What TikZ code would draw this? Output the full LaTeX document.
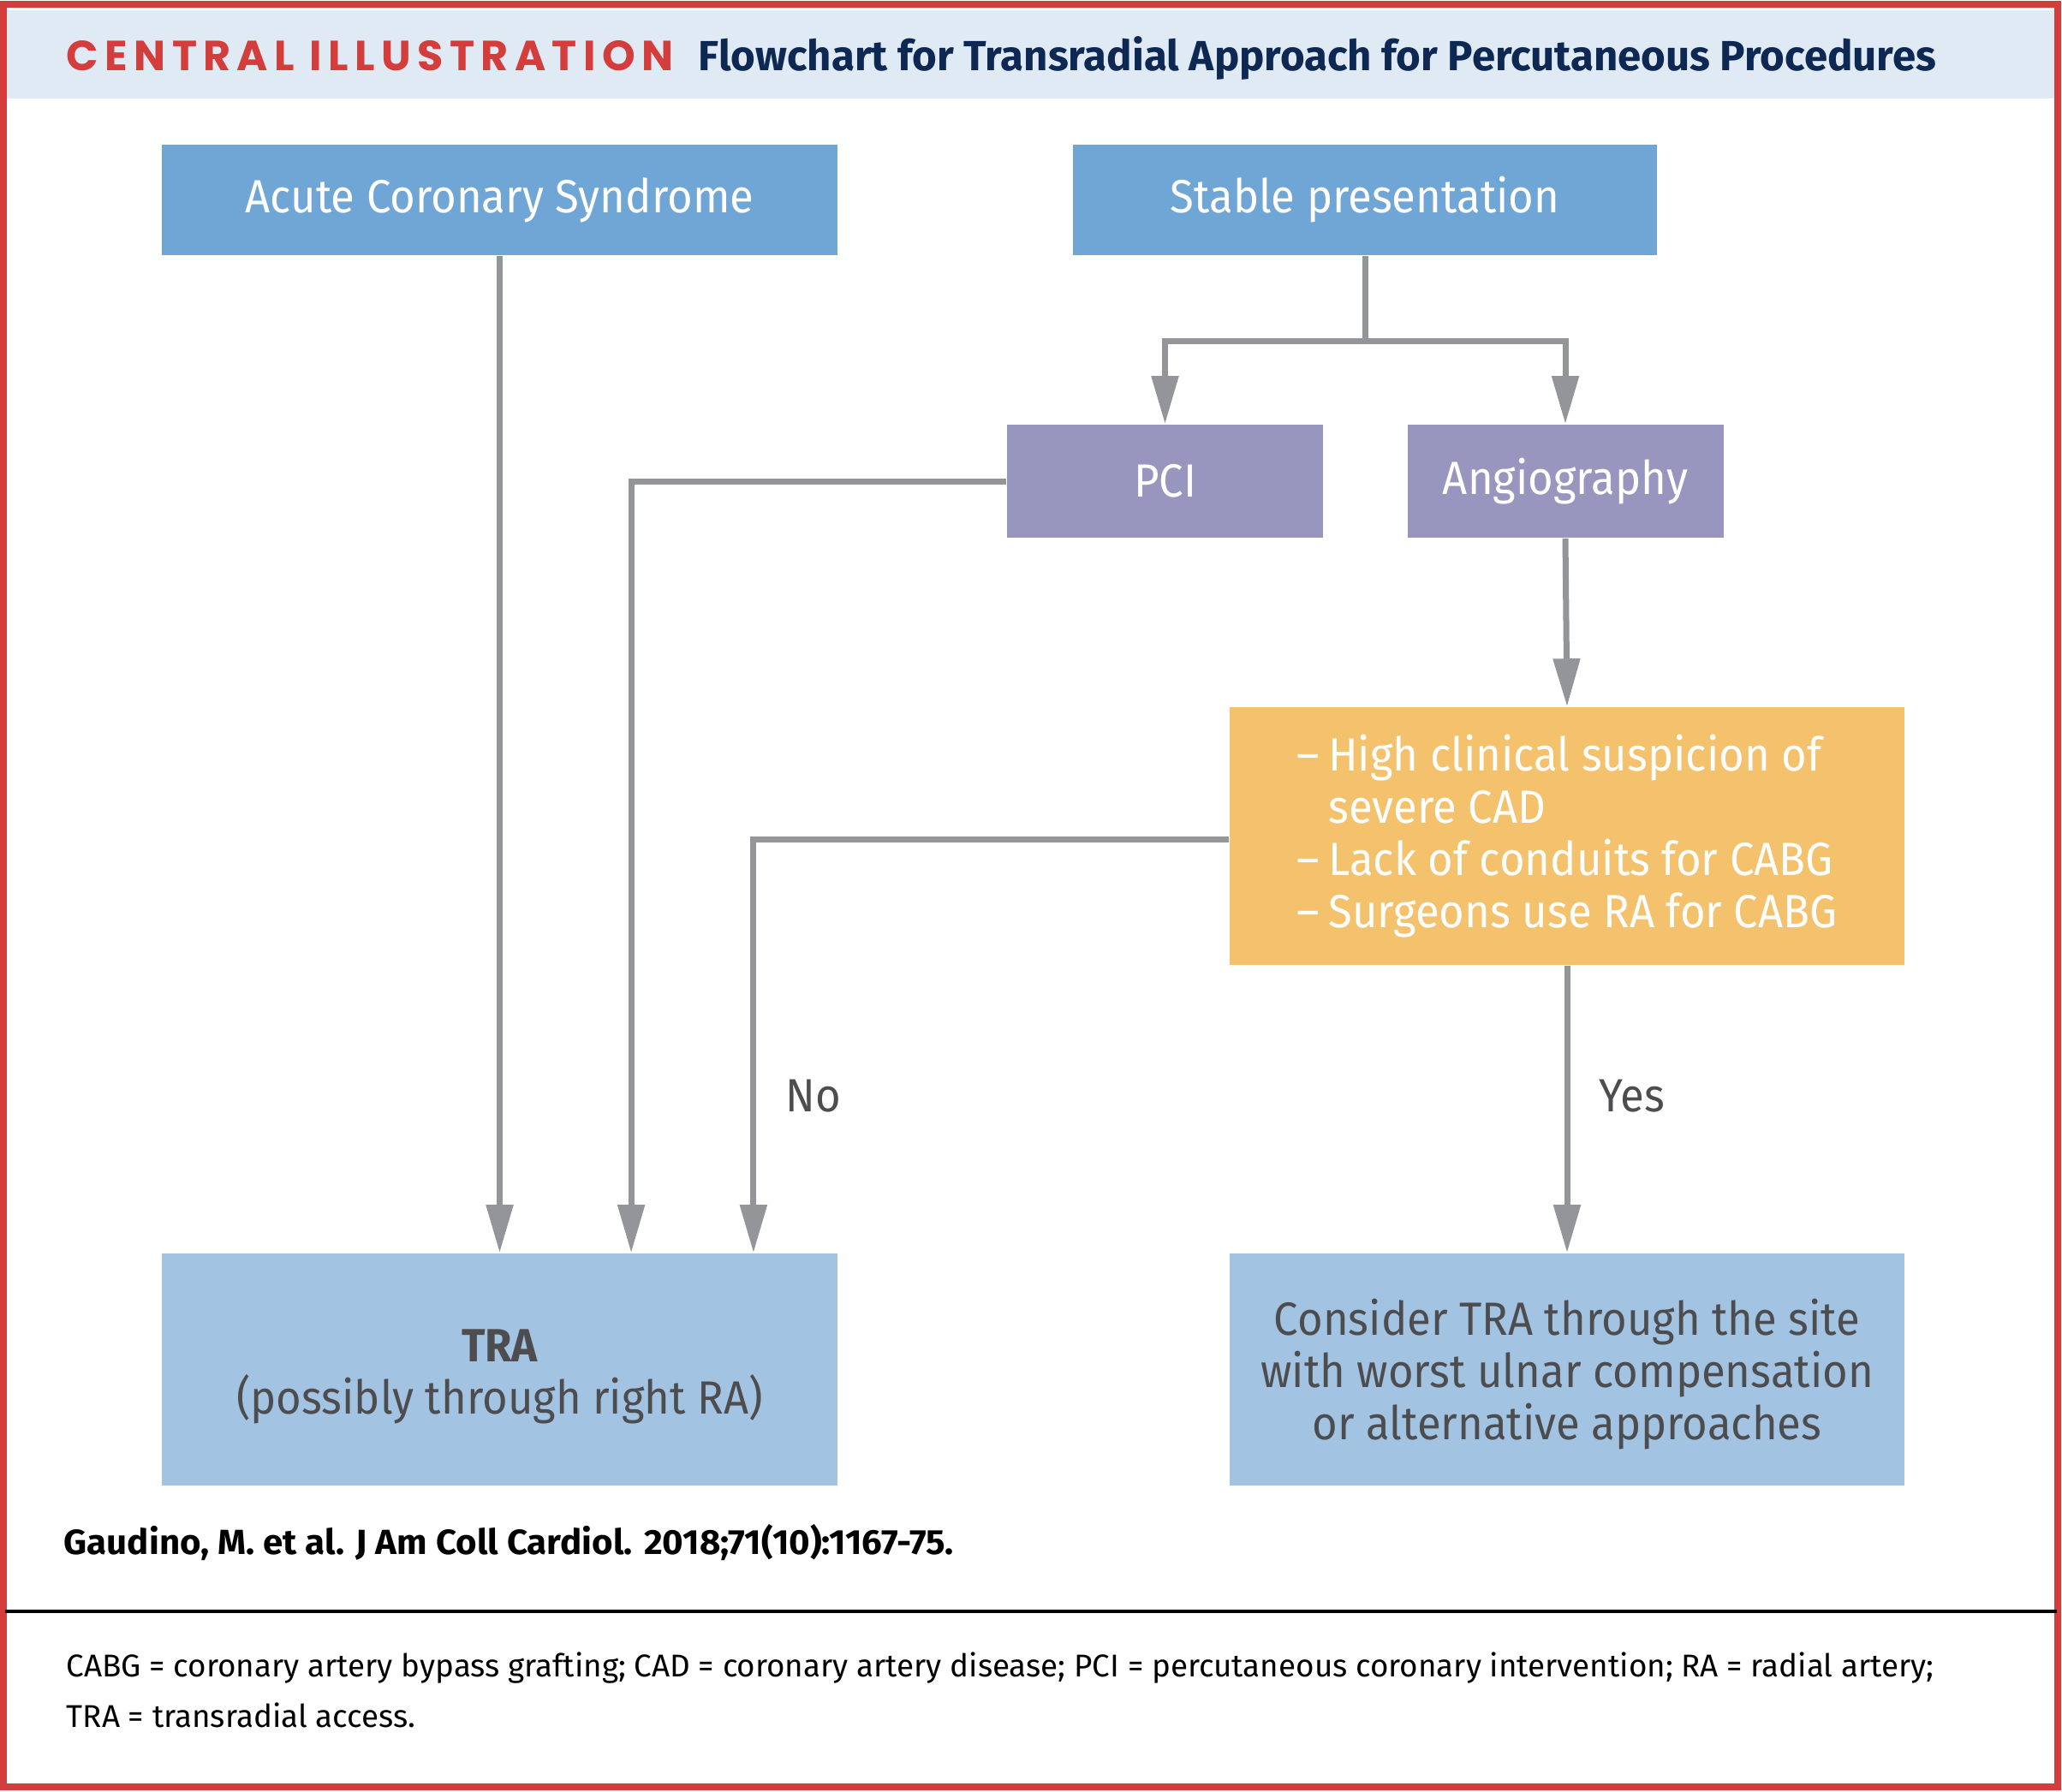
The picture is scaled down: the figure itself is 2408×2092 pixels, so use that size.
\documentclass[tikz,border=0pt]{standalone}
\usepackage{fontspec}
\setmainfont{Fira Sans}[FakeStretch=0.935]
\newfontfamily\fnfont{Fira Sans}[FakeStretch=1.0]
\newfontfamily\hdfont{Fira Sans}[FakeStretch=1.0]
\newfontfamily\citefont{Fira Sans}[FakeStretch=1.03]
\newfontfamily\redfont{Poppins}[LetterSpace=15]
\usetikzlibrary{arrows.meta,calc}
\definecolor{redc}{RGB}{211,61,59}
\definecolor{navy}{RGB}{14,40,84}
\definecolor{hdr}{RGB}{224,234,244}
\definecolor{bluedark}{RGB}{111,166,214}
\definecolor{lav}{RGB}{152,150,190}
\definecolor{yel}{RGB}{244,194,108}
\definecolor{bluelight}{RGB}{163,195,227}
\definecolor{arrgray}{RGB}{147,149,152}
\definecolor{txtgray}{RGB}{77,77,79}
\begin{document}
\begin{tikzpicture}[x=0.25pt,y=-0.25pt,
  boxfont/.style={font=\fontsize{13.6}{15.3}\selectfont},
  whitebox/.style={boxfont, text=white, inner sep=0pt, align=center},
  graybox/.style={boxfont, text=txtgray, inner sep=0pt, align=center, fill=bluelight},
  conn/.style={draw=arrgray, line width=1.75pt, line join=miter},
  arr/.style={conn, -{Triangle[length=14pt,width=7.6pt]}},
  lbl/.style={boxfont, text=txtgray, inner sep=0pt, anchor=base}
]
\useasboundingbox (0,0) rectangle (2408,2092);
\fill[white] (0,0) rectangle (2408,2092);
\fill[hdr] (6,12) rectangle (2402,115);
\draw[redc, line width=2pt] (4,5) rectangle (2403,2087);

% header
\node[anchor=base west, inner sep=0pt, text=redc, font=\redfont\bfseries\fontsize{12.3}{13}\selectfont] (hd1) at (77,82) {CENTRAL ILLUSTRATION};
\node[anchor=base west, inner sep=0pt, text=navy, font=\hdfont\bfseries\fontsize{12.3}{13}\selectfont] (hd2) at (815,82) {Flowchart for Transradial Approach for Percutaneous Procedures};

% boxes
\node[whitebox, fill=bluedark, minimum width=197.25pt, minimum height=32.25pt] (acs) at (583.5,233.5) {Acute Coronary Syndrome};
\node[whitebox, fill=bluedark, minimum width=170.5pt, minimum height=32.25pt] (stab) at (1594,233.5) {Stable presentation};
\node[whitebox, fill=lav, minimum width=92.25pt, minimum height=33pt] (pci) at (1360.5,562) {PCI};
\node[whitebox, fill=lav, minimum width=92.25pt, minimum height=33pt] (ang) at (1828,562) {Angiography};
\node[whitebox, fill=yel, minimum width=197pt, minimum height=75.25pt, align=left] (yel) at (1830,976.5)
  {\makebox[9.25pt][l]{–}High clinical suspicion of\\
   \hspace*{9.25pt}severe CAD\\
   \makebox[9.25pt][l]{–}Lack of conduits for CABG\\
   \makebox[9.25pt][l]{–}Surgeons use RA for CABG};
\node[graybox, minimum width=197.25pt, minimum height=67.75pt] (tra) at (583.5,1599.5)
  {\rule{0pt}{13.5pt}\bfseries TRA\\(possibly through right RA)};
\node[graybox, minimum width=197pt, minimum height=67.75pt] (cons) at (1830,1599.5)
  {\rule{0pt}{13.5pt}Consider TRA through the site\\with worst ulnar compensation\\or alternative approaches};

% connectors
\coordinate (br) at (1594,398.5);
\draw[conn] (stab.south) -- (br);
\draw[arr] (br) -| (pci.north);
\draw[arr] (br) -| (ang.north);
\draw[arr] (ang.south) -- (yel.north);
\draw[arr] (yel.south) -- (cons.north);
\draw[arr] (acs.south) -- (tra.north);
\draw[arr] (pci.west) -| ([xshift=38.4pt]tra.north);
\draw[arr] ([yshift=-0.9pt]yel.west) -| ([xshift=74.1pt]tra.north);
\node[lbl] (no) at (950,1298) {No};
\node[lbl] (yes) at (1906,1298) {Yes};

% footer
\node[anchor=base west, inner sep=0pt, font=\citefont\bfseries\fontsize{10.2}{11}\selectfont] (cite) at (74,1815) {Gaudino, M. et al. J Am Coll Cardiol. 2018;71(10):1167-75.};
\draw[black, line width=1pt] (6,1882) -- (2402,1882);
\node[anchor=base west, inner sep=0pt, font=\fnfont\fontsize{9.2}{9.5}\selectfont] (fn1) at (77,1958) {CABG = coronary artery bypass grafting; CAD = coronary artery disease; PCI = percutaneous coronary intervention; RA = radial artery;};
\node[anchor=base west, inner sep=0pt, font=\fnfont\fontsize{9.2}{9.5}\selectfont] (fn2) at (77,2017) {TRA = transradial access.};
\end{tikzpicture}
\end{document}
